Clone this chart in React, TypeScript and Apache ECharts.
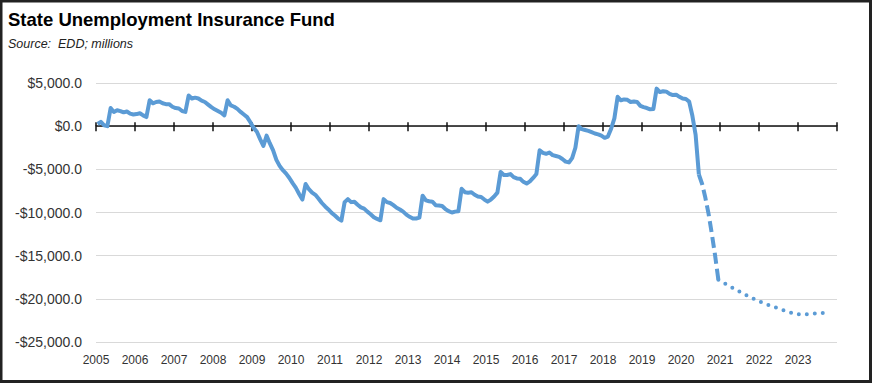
import React, { useEffect, useRef } from 'react';
import * as echarts from 'echarts';

// Monthly fund balance, $ millions (actuals, Jan-Dec each year)
const actual2005 = [250, 500, 100, 0, 2100, 1650, 1850, 1750, 1600, 1700, 1450, 1350];
const actual2006 = [1400, 1500, 1250, 1050, 3000, 2650, 2800, 2850, 2650, 2550, 2550, 2250];
const actual2007 = [2100, 2050, 1750, 1650, 3550, 3200, 3300, 3200, 2950, 2800, 2500, 2200];
const actual2008 = [1950, 1750, 1550, 1250, 3000, 2400, 2250, 2000, 1650, 1350, 1050, 450];
const actual2009 = [-200, -650, -1500, -2300, -1100, -2000, -2800, -3900, -4600, -5100, -5500, -6000];
const actual2010 = [-6600, -7150, -7850, -8500, -6700, -7300, -7700, -7950, -8400, -8900, -9300, -9650];
const actual2011 = [-10050, -10350, -10700, -10950, -8800, -8450, -8800, -8750, -9100, -9400, -9550, -9900];
const actual2012 = [-10200, -10550, -10750, -10900, -8450, -8800, -8900, -9150, -9450, -9650, -9900, -10250];
const actual2013 = [-10500, -10700, -10700, -10600, -8050, -8600, -8700, -8750, -9150, -9200, -9250, -9600];
const actual2014 = [-9850, -10000, -9900, -9850, -7250, -7650, -7700, -7650, -7950, -8150, -8200, -8500];
const actual2015 = [-8750, -8500, -8150, -7700, -5300, -5650, -5650, -5550, -5900, -6050, -6100, -6450];
const actual2016 = [-6650, -6400, -6000, -5550, -2800, -3100, -3200, -3050, -3350, -3450, -3550, -3800];
const actual2017 = [-4100, -4200, -3700, -2500, 0, -350, -450, -550, -700, -850, -950, -1100];
const actual2018 = [-1350, -1200, -300, 900, 3400, 3000, 3100, 3050, 2800, 2850, 2800, 2350];
const actual2019 = [2200, 2100, 1950, 2000, 4350, 3950, 4050, 4000, 3750, 3600, 3650, 3400];
const actual2020 = [3200, 3150, 2850, 1200, -1000, -5600];

// Estimate (dashed)
const estimateMonths = ['2020-06', '2020-07', '2020-08', '2020-09', '2020-10', '2020-11', '2020-12'];
const estimateValues = [-5600, -6700, -8300, -10200, -12500, -15000, -17800];

// Projection (dotted)
const projectionMonths = ['2020-12', '2021-03', '2021-06', '2021-09', '2021-12', '2022-03', '2022-06', '2022-09', '2022-12', '2023-03', '2023-06', '2023-09', '2023-10'];
const projectionValues = [-17800, -18450, -19050, -19650, -20200, -20650, -21050, -21450, -21800, -21780, -21700, -21600, -21560];

const yearsFirst = 2005;
const yearsLast = 2024;
const yMin = -25000;
const yMax = 5000;
const yStep = 5000;

const actualByYear = [actual2005, actual2006, actual2007, actual2008, actual2009, actual2010, actual2011, actual2012, actual2013, actual2014, actual2015, actual2016, actual2017, actual2018, actual2019, actual2020];

const monthToT = (s: string) => {
  const [y, m] = s.split('-').map(Number);
  return y + (m - 0.5) / 12;
};

const BLUE = '#5B9BD5';
const FONT = '"Liberation Sans", Arial, sans-serif';

export default function App() {
  const ref = useRef<HTMLDivElement>(null);

  useEffect(() => {
    if (!ref.current) return;
    const chart = echarts.init(ref.current, undefined, { renderer: 'svg' });

    const actualData: number[][] = [];
    actualByYear.forEach((arr, yi) => {
      arr.forEach((v, mi) => actualData.push([yearsFirst + yi + (mi + 0.5) / 12, v]));
    });
    const estimateData = estimateMonths.map((m, i) => [monthToT(m), estimateValues[i]]);
    const projectionData = projectionMonths.map((m, i) => [monthToT(m), projectionValues[i]]);

    const fmtY = (v: number) =>
      (v < 0 ? '-' : '') + '$' + Math.abs(v).toLocaleString('en-US', { minimumFractionDigits: 1, maximumFractionDigits: 1 });

    const baseX = { type: 'value', min: yearsFirst, max: yearsLast, interval: 1, splitLine: { show: false } };

    chart.setOption({
      animation: false,
      backgroundColor: '#fff',
      textStyle: { fontFamily: FONT },
      title: {
        text: 'State Unemployment Insurance Fund',
        subtext: 'Source:  EDD; millions',
        left: 8,
        top: 10,
        padding: 0,
        itemGap: 8,
        textStyle: { fontFamily: FONT, fontSize: 18.5, fontWeight: 'bold', color: '#000' },
        subtextStyle: { fontFamily: FONT, fontSize: 12.5, fontStyle: 'italic', color: '#222' },
      },
      graphic: [
        {
          type: 'rect',
          shape: { x: 1, y: 1, width: 869.5, height: 380.5 },
          style: { fill: 'none', stroke: '#222', lineWidth: 3 },
          silent: true,
          z: 100,
        },
      ],
      grid: { left: 96, right: 35, top: 83, bottom: 41 },
      xAxis: [
        {
          ...baseX,
          position: 'bottom',
          axisLine: { show: false, onZero: false },
          axisTick: { show: false },
          axisLabel: {
            margin: 12,
            fontSize: 12,
            color: '#333',
            fontFamily: FONT,
            formatter: (v: number) => (v >= yearsLast ? '' : String(v)),
          },
        },
        {
          ...baseX,
          position: 'bottom',
          axisLine: { show: true, onZero: true, onZeroAxisIndex: 0, lineStyle: { color: '#111', width: 1.5 } },
          axisTick: { show: true, length: 5, lineStyle: { color: '#111', width: 1.5 } },
          axisLabel: { show: false },
        },
        {
          ...baseX,
          position: 'top',
          axisLine: { show: false, onZero: true, onZeroAxisIndex: 0 },
          axisTick: { show: true, length: 4, lineStyle: { color: '#111', width: 1.5 } },
          axisLabel: { show: false },
        },
      ],
      yAxis: {
        type: 'value',
        min: yMin,
        max: yMax,
        interval: yStep,
        axisLine: { show: false },
        axisTick: { show: false },
        splitLine: { show: true, lineStyle: { color: '#D9D9D9', width: 1.2 } },
        axisLabel: { margin: 14, fontSize: 14, color: '#333', fontFamily: FONT, formatter: fmtY },
      },
      series: [
        {
          name: 'Actual',
          type: 'line',
          data: actualData,
          showSymbol: false,
          symbol: 'none',
          lineStyle: { color: BLUE, width: 4, join: 'round' },
          z: 5,
        },
        {
          name: 'Estimate',
          type: 'line',
          data: estimateData,
          showSymbol: false,
          symbol: 'none',
          lineStyle: { color: BLUE, width: 4, type: [11, 5] },
          z: 5,
        },
        {
          name: 'Projection',
          type: 'line',
          data: projectionData,
          showSymbol: false,
          symbol: 'none',
          lineStyle: { color: BLUE, width: 4, type: [0, 8], cap: 'round' },
          z: 5,
        },
      ],
    });

    return () => chart.dispose();
  }, []);

  return (
    <div
      ref={ref}
      style={{ position: 'absolute', left: 0, top: 0, width: 872, height: 383 }}
    />
  );
}
